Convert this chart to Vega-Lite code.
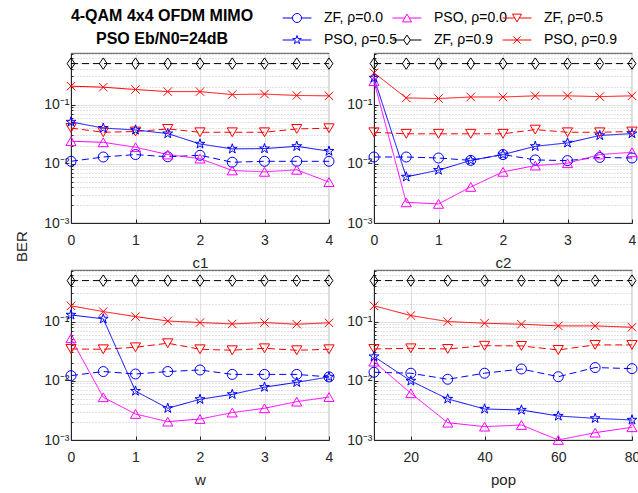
{
"$schema":"https://vega.github.io/schema/vega-lite/v6.json",
"padding":{"left":13,"top":8,"right":0,"bottom":0},
"bounds":"flush",
"columns":2,
"spacing":{"row":47,"column":45},
"config":{
 "font":"Liberation Sans",
 "view":{"stroke":"#262626","strokeWidth":0.8},
 "axis":{"labelFontSize":14,"labelColor":"#262626","titleFontSize":15,"titleFontWeight":"normal","titleColor":"#262626","domainColor":"#262626","tickColor":"#262626","gridColor":"#e0e0e0","labelOverlap":false,"labelBound":false,"labelFlush":false},
 "legend":{"padding":0}
},
"datasets":{"ber":[
{"p":"c1","x":0,"s":"ZF, ρ=0.0","b":0.011},{"p":"c1","x":0.5,"s":"ZF, ρ=0.0","b":0.013},{"p":"c1","x":1,"s":"ZF, ρ=0.0","b":0.0143},{"p":"c1","x":1.5,"s":"ZF, ρ=0.0","b":0.0131},{"p":"c1","x":2,"s":"ZF, ρ=0.0","b":0.0139},{"p":"c1","x":2.5,"s":"ZF, ρ=0.0","b":0.0106},{"p":"c1","x":3,"s":"ZF, ρ=0.0","b":0.011},{"p":"c1","x":3.5,"s":"ZF, ρ=0.0","b":0.011},{"p":"c1","x":4,"s":"ZF, ρ=0.0","b":0.011},
{"p":"c1","x":0,"s":"PSO, ρ=0.0","b":0.024},{"p":"c1","x":0.5,"s":"PSO, ρ=0.0","b":0.023},{"p":"c1","x":1,"s":"PSO, ρ=0.0","b":0.019},{"p":"c1","x":1.5,"s":"PSO, ρ=0.0","b":0.0143},{"p":"c1","x":2,"s":"PSO, ρ=0.0","b":0.0122},{"p":"c1","x":2.5,"s":"PSO, ρ=0.0","b":0.0077},{"p":"c1","x":3,"s":"PSO, ρ=0.0","b":0.0073},{"p":"c1","x":3.5,"s":"PSO, ρ=0.0","b":0.0079},{"p":"c1","x":4,"s":"PSO, ρ=0.0","b":0.0049},
{"p":"c1","x":0,"s":"ZF, ρ=0.5","b":0.040},{"p":"c1","x":0.5,"s":"ZF, ρ=0.5","b":0.034},{"p":"c1","x":1,"s":"ZF, ρ=0.5","b":0.035},{"p":"c1","x":1.5,"s":"ZF, ρ=0.5","b":0.0387},{"p":"c1","x":2,"s":"ZF, ρ=0.5","b":0.034},{"p":"c1","x":2.5,"s":"ZF, ρ=0.5","b":0.034},{"p":"c1","x":3,"s":"ZF, ρ=0.5","b":0.034},{"p":"c1","x":3.5,"s":"ZF, ρ=0.5","b":0.0387},{"p":"c1","x":4,"s":"ZF, ρ=0.5","b":0.0398},
{"p":"c1","x":0,"s":"PSO, ρ=0.5","b":0.0508},{"p":"c1","x":0.5,"s":"PSO, ρ=0.5","b":0.040},{"p":"c1","x":1,"s":"PSO, ρ=0.5","b":0.0372},{"p":"c1","x":1.5,"s":"PSO, ρ=0.5","b":0.0323},{"p":"c1","x":2,"s":"PSO, ρ=0.5","b":0.0216},{"p":"c1","x":2.5,"s":"PSO, ρ=0.5","b":0.0178},{"p":"c1","x":3,"s":"PSO, ρ=0.5","b":0.018},{"p":"c1","x":3.5,"s":"PSO, ρ=0.5","b":0.0197},{"p":"c1","x":4,"s":"PSO, ρ=0.5","b":0.0163},
{"p":"c1","x":0,"s":"ZF, ρ=0.9","b":0.49},{"p":"c1","x":0.5,"s":"ZF, ρ=0.9","b":0.49},{"p":"c1","x":1,"s":"ZF, ρ=0.9","b":0.49},{"p":"c1","x":1.5,"s":"ZF, ρ=0.9","b":0.49},{"p":"c1","x":2,"s":"ZF, ρ=0.9","b":0.49},{"p":"c1","x":2.5,"s":"ZF, ρ=0.9","b":0.49},{"p":"c1","x":3,"s":"ZF, ρ=0.9","b":0.49},{"p":"c1","x":3.5,"s":"ZF, ρ=0.9","b":0.49},{"p":"c1","x":4,"s":"ZF, ρ=0.9","b":0.49},
{"p":"c1","x":0,"s":"PSO, ρ=0.9","b":0.204},{"p":"c1","x":0.5,"s":"PSO, ρ=0.9","b":0.196},{"p":"c1","x":1,"s":"PSO, ρ=0.9","b":0.179},{"p":"c1","x":1.5,"s":"PSO, ρ=0.9","b":0.165},{"p":"c1","x":2,"s":"PSO, ρ=0.9","b":0.165},{"p":"c1","x":2.5,"s":"PSO, ρ=0.9","b":0.147},{"p":"c1","x":3,"s":"PSO, ρ=0.9","b":0.150},{"p":"c1","x":3.5,"s":"PSO, ρ=0.9","b":0.142},{"p":"c1","x":4,"s":"PSO, ρ=0.9","b":0.140},
{"p":"c2","x":0,"s":"ZF, ρ=0.0","b":0.013},{"p":"c2","x":0.5,"s":"ZF, ρ=0.0","b":0.013},{"p":"c2","x":1,"s":"ZF, ρ=0.0","b":0.0125},{"p":"c2","x":1.5,"s":"ZF, ρ=0.0","b":0.0114},{"p":"c2","x":2,"s":"ZF, ρ=0.0","b":0.0143},{"p":"c2","x":2.5,"s":"ZF, ρ=0.0","b":0.0116},{"p":"c2","x":3,"s":"ZF, ρ=0.0","b":0.0113},{"p":"c2","x":3.5,"s":"ZF, ρ=0.0","b":0.0128},{"p":"c2","x":4,"s":"ZF, ρ=0.0","b":0.0125},
{"p":"c2","x":0,"s":"PSO, ρ=0.0","b":0.247},{"p":"c2","x":0.5,"s":"PSO, ρ=0.0","b":0.00223},{"p":"c2","x":1,"s":"PSO, ρ=0.0","b":0.0021},{"p":"c2","x":1.5,"s":"PSO, ρ=0.0","b":0.00406},{"p":"c2","x":2,"s":"PSO, ρ=0.0","b":0.0073},{"p":"c2","x":2.5,"s":"PSO, ρ=0.0","b":0.0093},{"p":"c2","x":3,"s":"PSO, ρ=0.0","b":0.0102},{"p":"c2","x":3.5,"s":"PSO, ρ=0.0","b":0.0143},{"p":"c2","x":4,"s":"PSO, ρ=0.0","b":0.0156},
{"p":"c2","x":0,"s":"ZF, ρ=0.5","b":0.034},{"p":"c2","x":0.5,"s":"ZF, ρ=0.5","b":0.032},{"p":"c2","x":1,"s":"ZF, ρ=0.5","b":0.032},{"p":"c2","x":1.5,"s":"ZF, ρ=0.5","b":0.032},{"p":"c2","x":2,"s":"ZF, ρ=0.5","b":0.032},{"p":"c2","x":2.5,"s":"ZF, ρ=0.5","b":0.0377},{"p":"c2","x":3,"s":"ZF, ρ=0.5","b":0.034},{"p":"c2","x":3.5,"s":"ZF, ρ=0.5","b":0.034},{"p":"c2","x":4,"s":"ZF, ρ=0.5","b":0.035},
{"p":"c2","x":0,"s":"PSO, ρ=0.5","b":0.281},{"p":"c2","x":0.5,"s":"PSO, ρ=0.5","b":0.006},{"p":"c2","x":1,"s":"PSO, ρ=0.5","b":0.0078},{"p":"c2","x":1.5,"s":"PSO, ρ=0.5","b":0.0114},{"p":"c2","x":2,"s":"PSO, ρ=0.5","b":0.0143},{"p":"c2","x":2.5,"s":"PSO, ρ=0.5","b":0.0197},{"p":"c2","x":3,"s":"PSO, ρ=0.5","b":0.0225},{"p":"c2","x":3.5,"s":"PSO, ρ=0.5","b":0.030},{"p":"c2","x":4,"s":"PSO, ρ=0.5","b":0.0323},
{"p":"c2","x":0,"s":"ZF, ρ=0.9","b":0.49},{"p":"c2","x":0.5,"s":"ZF, ρ=0.9","b":0.49},{"p":"c2","x":1,"s":"ZF, ρ=0.9","b":0.49},{"p":"c2","x":1.5,"s":"ZF, ρ=0.9","b":0.49},{"p":"c2","x":2,"s":"ZF, ρ=0.9","b":0.49},{"p":"c2","x":2.5,"s":"ZF, ρ=0.9","b":0.49},{"p":"c2","x":3,"s":"ZF, ρ=0.9","b":0.49},{"p":"c2","x":3.5,"s":"ZF, ρ=0.9","b":0.49},{"p":"c2","x":4,"s":"ZF, ρ=0.9","b":0.49},
{"p":"c2","x":0,"s":"PSO, ρ=0.9","b":0.342},{"p":"c2","x":0.5,"s":"PSO, ρ=0.9","b":0.129},{"p":"c2","x":1,"s":"PSO, ρ=0.9","b":0.126},{"p":"c2","x":1.5,"s":"PSO, ρ=0.9","b":0.134},{"p":"c2","x":2,"s":"PSO, ρ=0.9","b":0.134},{"p":"c2","x":2.5,"s":"PSO, ρ=0.9","b":0.140},{"p":"c2","x":3,"s":"PSO, ρ=0.9","b":0.140},{"p":"c2","x":3.5,"s":"PSO, ρ=0.9","b":0.136},{"p":"c2","x":4,"s":"PSO, ρ=0.9","b":0.140},
{"p":"w","x":0,"s":"ZF, ρ=0.0","b":0.0122},{"p":"w","x":0.5,"s":"ZF, ρ=0.0","b":0.0143},{"p":"w","x":1,"s":"ZF, ρ=0.0","b":0.013},{"p":"w","x":1.5,"s":"ZF, ρ=0.0","b":0.0143},{"p":"w","x":2,"s":"ZF, ρ=0.0","b":0.0152},{"p":"w","x":2.5,"s":"ZF, ρ=0.0","b":0.0128},{"p":"w","x":3,"s":"ZF, ρ=0.0","b":0.0128},{"p":"w","x":3.5,"s":"ZF, ρ=0.0","b":0.0128},{"p":"w","x":4,"s":"ZF, ρ=0.0","b":0.0116},
{"p":"w","x":0,"s":"PSO, ρ=0.0","b":0.052},{"p":"w","x":0.5,"s":"PSO, ρ=0.0","b":0.00526},{"p":"w","x":1,"s":"PSO, ρ=0.0","b":0.00275},{"p":"w","x":1.5,"s":"PSO, ρ=0.0","b":0.00204},{"p":"w","x":2,"s":"PSO, ρ=0.0","b":0.00226},{"p":"w","x":2.5,"s":"PSO, ρ=0.0","b":0.0029},{"p":"w","x":3,"s":"PSO, ρ=0.0","b":0.00343},{"p":"w","x":3.5,"s":"PSO, ρ=0.0","b":0.00444},{"p":"w","x":4,"s":"PSO, ρ=0.0","b":0.0053},
{"p":"w","x":0,"s":"ZF, ρ=0.5","b":0.0344},{"p":"w","x":0.5,"s":"ZF, ρ=0.5","b":0.034},{"p":"w","x":1,"s":"ZF, ρ=0.5","b":0.0367},{"p":"w","x":1.5,"s":"ZF, ρ=0.5","b":0.043},{"p":"w","x":2,"s":"ZF, ρ=0.5","b":0.034},{"p":"w","x":2.5,"s":"ZF, ρ=0.5","b":0.0327},{"p":"w","x":3,"s":"ZF, ρ=0.5","b":0.0353},{"p":"w","x":3.5,"s":"ZF, ρ=0.5","b":0.0327},{"p":"w","x":4,"s":"ZF, ρ=0.5","b":0.034},
{"p":"w","x":0,"s":"PSO, ρ=0.5","b":0.129},{"p":"w","x":0.5,"s":"PSO, ρ=0.5","b":0.111},{"p":"w","x":1,"s":"PSO, ρ=0.5","b":0.0067},{"p":"w","x":1.5,"s":"PSO, ρ=0.5","b":0.00343},{"p":"w","x":2,"s":"PSO, ρ=0.5","b":0.00486},{"p":"w","x":2.5,"s":"PSO, ρ=0.5","b":0.0059},{"p":"w","x":3,"s":"PSO, ρ=0.5","b":0.0078},{"p":"w","x":3.5,"s":"PSO, ρ=0.5","b":0.0094},{"p":"w","x":4,"s":"PSO, ρ=0.5","b":0.0116},
{"p":"w","x":0,"s":"ZF, ρ=0.9","b":0.49},{"p":"w","x":0.5,"s":"ZF, ρ=0.9","b":0.49},{"p":"w","x":1,"s":"ZF, ρ=0.9","b":0.49},{"p":"w","x":1.5,"s":"ZF, ρ=0.9","b":0.49},{"p":"w","x":2,"s":"ZF, ρ=0.9","b":0.49},{"p":"w","x":2.5,"s":"ZF, ρ=0.9","b":0.49},{"p":"w","x":3,"s":"ZF, ρ=0.9","b":0.49},{"p":"w","x":3.5,"s":"ZF, ρ=0.9","b":0.49},{"p":"w","x":4,"s":"ZF, ρ=0.9","b":0.49},
{"p":"w","x":0,"s":"PSO, ρ=0.9","b":0.184},{"p":"w","x":0.5,"s":"PSO, ρ=0.9","b":0.147},{"p":"w","x":1,"s":"PSO, ρ=0.9","b":0.121},{"p":"w","x":1.5,"s":"PSO, ρ=0.9","b":0.102},{"p":"w","x":2,"s":"PSO, ρ=0.9","b":0.096},{"p":"w","x":2.5,"s":"PSO, ρ=0.9","b":0.091},{"p":"w","x":3,"s":"PSO, ρ=0.9","b":0.096},{"p":"w","x":3.5,"s":"PSO, ρ=0.9","b":0.090},{"p":"w","x":4,"s":"PSO, ρ=0.9","b":0.095},
{"p":"pop","x":10,"s":"ZF, ρ=0.0","b":0.0139},{"p":"pop","x":20,"s":"ZF, ρ=0.0","b":0.0134},{"p":"pop","x":30,"s":"ZF, ρ=0.0","b":0.0106},{"p":"pop","x":40,"s":"ZF, ρ=0.0","b":0.0134},{"p":"pop","x":50,"s":"ZF, ρ=0.0","b":0.0158},{"p":"pop","x":60,"s":"ZF, ρ=0.0","b":0.0117},{"p":"pop","x":70,"s":"ZF, ρ=0.0","b":0.0167},{"p":"pop","x":80,"s":"ZF, ρ=0.0","b":0.016},
{"p":"pop","x":10,"s":"PSO, ρ=0.0","b":0.021},{"p":"pop","x":20,"s":"PSO, ρ=0.0","b":0.00614},{"p":"pop","x":30,"s":"PSO, ρ=0.0","b":0.00196},{"p":"pop","x":40,"s":"PSO, ρ=0.0","b":0.00168},{"p":"pop","x":50,"s":"PSO, ρ=0.0","b":0.00179},{"p":"pop","x":60,"s":"PSO, ρ=0.0","b":0.001},{"p":"pop","x":70,"s":"PSO, ρ=0.0","b":0.00133},{"p":"pop","x":80,"s":"PSO, ρ=0.0","b":0.00164},
{"p":"pop","x":10,"s":"ZF, ρ=0.5","b":0.0344},{"p":"pop","x":20,"s":"ZF, ρ=0.5","b":0.0353},{"p":"pop","x":30,"s":"ZF, ρ=0.5","b":0.0344},{"p":"pop","x":40,"s":"ZF, ρ=0.5","b":0.039},{"p":"pop","x":50,"s":"ZF, ρ=0.5","b":0.0387},{"p":"pop","x":60,"s":"ZF, ρ=0.5","b":0.0331},{"p":"pop","x":70,"s":"ZF, ρ=0.5","b":0.0403},{"p":"pop","x":80,"s":"ZF, ρ=0.5","b":0.0403},
{"p":"pop","x":10,"s":"PSO, ρ=0.5","b":0.0256},{"p":"pop","x":20,"s":"PSO, ρ=0.5","b":0.00993},{"p":"pop","x":30,"s":"PSO, ρ=0.5","b":0.00493},{"p":"pop","x":40,"s":"PSO, ρ=0.5","b":0.00334},{"p":"pop","x":50,"s":"PSO, ρ=0.5","b":0.00321},{"p":"pop","x":60,"s":"PSO, ρ=0.5","b":0.00254},{"p":"pop","x":70,"s":"PSO, ρ=0.5","b":0.00232},{"p":"pop","x":80,"s":"PSO, ρ=0.5","b":0.00218},
{"p":"pop","x":10,"s":"ZF, ρ=0.9","b":0.49},{"p":"pop","x":20,"s":"ZF, ρ=0.9","b":0.49},{"p":"pop","x":30,"s":"ZF, ρ=0.9","b":0.49},{"p":"pop","x":40,"s":"ZF, ρ=0.9","b":0.49},{"p":"pop","x":50,"s":"ZF, ρ=0.9","b":0.49},{"p":"pop","x":60,"s":"ZF, ρ=0.9","b":0.49},{"p":"pop","x":70,"s":"ZF, ρ=0.9","b":0.49},{"p":"pop","x":80,"s":"ZF, ρ=0.9","b":0.49},
{"p":"pop","x":10,"s":"PSO, ρ=0.9","b":0.184},{"p":"pop","x":20,"s":"PSO, ρ=0.9","b":0.126},{"p":"pop","x":30,"s":"PSO, ρ=0.9","b":0.0998},{"p":"pop","x":40,"s":"PSO, ρ=0.9","b":0.0935},{"p":"pop","x":50,"s":"PSO, ρ=0.9","b":0.090},{"p":"pop","x":60,"s":"PSO, ρ=0.9","b":0.0843},{"p":"pop","x":70,"s":"PSO, ρ=0.9","b":0.0843},{"p":"pop","x":80,"s":"PSO, ρ=0.9","b":0.080}
]},
"concat":[
{"width":258,"height":170,
 "title":{"text":["4-QAM 4x4 OFDM MIMO","PSO Eb/N0=24dB"],"fontSize":16,"fontWeight":"bold","anchor":"middle","dx":-38,"offset":0,"lineHeight":23,"color":"#000000"},
 "data":{"name":"ber"},"transform":[{"filter":"datum.p=='c1'"}],
 "encoding":{
  "x":{"field":"x","type":"quantitative","scale":{"domain":[0,4],"nice":false,"zero":false},"axis":{"values":[0,1,2,3,4],"title":"c1","tickSize":-4,"labelPadding":14,"titlePadding":8}},
  "y":{"field":"b","type":"quantitative","scale":{"type":"log","domain":[0.001,0.74],"nice":false},"axis":{"title":"BER","titleX":-50,"titleY":193,"titleAngle":-90,"titleAlign":"center","titleBaseline":"middle","labelPadding":6,"values":[0.001,0.002,0.003,0.004,0.005,0.006,0.007,0.008,0.009,0.01,0.02,0.03,0.04,0.05,0.06,0.07,0.08,0.09,0.1,0.2,0.3,0.4,0.5,0.6,0.7],"labelExpr":"datum.value==0.1?'10⁻¹':datum.value==0.01?'10⁻²':datum.value==0.001?'10⁻³':''","gridDash":{"condition":{"test":"datum.value==0.1||datum.value==0.01||datum.value==0.001","value":[]},"value":[1,2]},"gridColor":{"condition":{"test":"datum.value==0.1||datum.value==0.01||datum.value==0.001","value":"#e0e0e0"},"value":"#c4c4c4"},"tickSize":{"condition":{"test":"datum.value==0.1||datum.value==0.01||datum.value==0.001","value":-4},"value":-2}}},
  "color":{"field":"s","type":"nominal","scale":{"domain":["ZF, ρ=0.0","PSO, ρ=0.0","ZF, ρ=0.5","PSO, ρ=0.5","ZF, ρ=0.9","PSO, ρ=0.9"],"range":["#0000ff","#ff00ff","#ff0000","#0000ff","#000000","#ff0000"]},"legend":null}
 },
 "layer":[
  {"mark":{"type":"line","strokeWidth":1},"encoding":{"strokeDash":{"field":"s","type":"nominal","scale":{"domain":["ZF, ρ=0.0","PSO, ρ=0.0","ZF, ρ=0.5","PSO, ρ=0.5","ZF, ρ=0.9","PSO, ρ=0.9"],"range":[[7,4],[1,0],[7,4],[1,0],[7,4],[1,0]]},"legend":null}}},
  {"mark":{"type":"point","filled":false,"strokeWidth":1,"opacity":1},"encoding":{"shape":{"field":"s","type":"nominal","scale":{"domain":["ZF, ρ=0.0","PSO, ρ=0.0","ZF, ρ=0.5","PSO, ρ=0.5","ZF, ρ=0.9","PSO, ρ=0.9"],"range":["circle","triangle-up","triangle-down","M0,-1L0.223,-0.307L0.951,-0.309L0.361,0.117L0.588,0.809L0,0.38L-0.588,0.809L-0.361,0.117L-0.951,-0.309L-0.223,-0.307Z","M0,-1.1L0.75,0L0,1.1L-0.75,0Z","M-0.8,-0.8L0.8,0.8M-0.8,0.8L0.8,-0.8"]},"legend":null},"size":{"field":"s","type":"nominal","scale":{"domain":["ZF, ρ=0.0","PSO, ρ=0.0","ZF, ρ=0.5","PSO, ρ=0.5","ZF, ρ=0.9","PSO, ρ=0.9"],"range":[100,110,110,121,100,100]},"legend":null}}}
 ]
},
{"width":258,"height":170,
 "data":{"name":"ber"},"transform":[{"filter":"datum.p=='c2'"}],
 "resolve":{"scale":{"shape":"independent","stroke":"independent"},"legend":{"shape":"independent","stroke":"independent"}},
 "encoding":{
  "x":{"field":"x","type":"quantitative","scale":{"domain":[0,4],"nice":false,"zero":false},"axis":{"values":[0,1,2,3,4],"title":"c2","tickSize":-4,"labelPadding":14,"titlePadding":8}},
  "y":{"field":"b","type":"quantitative","scale":{"type":"log","domain":[0.001,0.74],"nice":false},"axis":{"title":null,"labelPadding":6,"values":[0.001,0.002,0.003,0.004,0.005,0.006,0.007,0.008,0.009,0.01,0.02,0.03,0.04,0.05,0.06,0.07,0.08,0.09,0.1,0.2,0.3,0.4,0.5,0.6,0.7],"labelExpr":"datum.value==0.1?'10⁻¹':datum.value==0.01?'10⁻²':datum.value==0.001?'10⁻³':''","gridDash":{"condition":{"test":"datum.value==0.1||datum.value==0.01||datum.value==0.001","value":[]},"value":[1,2]},"gridColor":{"condition":{"test":"datum.value==0.1||datum.value==0.01||datum.value==0.001","value":"#e0e0e0"},"value":"#c4c4c4"},"tickSize":{"condition":{"test":"datum.value==0.1||datum.value==0.01||datum.value==0.001","value":-4},"value":-2}}},
  "color":{"field":"s","type":"nominal","scale":{"domain":["ZF, ρ=0.0","PSO, ρ=0.0","ZF, ρ=0.5","PSO, ρ=0.5","ZF, ρ=0.9","PSO, ρ=0.9"],"range":["#0000ff","#ff00ff","#ff0000","#0000ff","#000000","#ff0000"]},"legend":null}
 },
 "layer":[
  {"mark":{"type":"line","strokeWidth":1},"encoding":{"strokeDash":{"field":"s","type":"nominal","scale":{"domain":["ZF, ρ=0.0","PSO, ρ=0.0","ZF, ρ=0.5","PSO, ρ=0.5","ZF, ρ=0.9","PSO, ρ=0.9"],"range":[[7,4],[1,0],[7,4],[1,0],[7,4],[1,0]]},"legend":null}}},
  {"mark":{"type":"point","filled":false,"strokeWidth":1,"opacity":1},"encoding":{"shape":{"field":"s","type":"nominal","scale":{"domain":["ZF, ρ=0.0","PSO, ρ=0.0","ZF, ρ=0.5","PSO, ρ=0.5","ZF, ρ=0.9","PSO, ρ=0.9"],"range":["circle","triangle-up","triangle-down","M0,-1L0.223,-0.307L0.951,-0.309L0.361,0.117L0.588,0.809L0,0.38L-0.588,0.809L-0.361,0.117L-0.951,-0.309L-0.223,-0.307Z","M0,-1.1L0.75,0L0,1.1L-0.75,0Z","M-0.8,-0.8L0.8,0.8M-0.8,0.8L0.8,-0.8"]},"legend":null},"size":{"field":"s","type":"nominal","scale":{"domain":["ZF, ρ=0.0","PSO, ρ=0.0","ZF, ρ=0.5","PSO, ρ=0.5","ZF, ρ=0.9","PSO, ρ=0.9"],"range":[100,110,110,121,100,100]},"legend":null}}},
  {"transform":[{"filter":"datum.p=='none'"}],"mark":{"type":"point","filled":false,"strokeWidth":1,"opacity":1},"encoding":{
    "stroke":{"field":"s","type":"nominal","scale":{"domain":["ZF, ρ=0.0","PSO, ρ=0.0","ZF, ρ=0.5","PSO, ρ=0.5","ZF, ρ=0.9","PSO, ρ=0.9"],"range":["#0000ff","#ff00ff","#ff0000","#0000ff","#000000","#ff0000"]},
     "legend":{"orient":"none","direction":"horizontal","legendX":-84,"legendY":-42,"columns":3,"title":null,"labelFontSize":14,"labelColor":"#000000","symbolSize":81,"symbolStrokeWidth":1,"symbolFillColor":"transparent","symbolOpacity":1,"labelOffset":20,"columnPadding":-7,"rowPadding":8}},
    "shape":{"field":"s","type":"nominal","scale":{"domain":["ZF, ρ=0.0","PSO, ρ=0.0","ZF, ρ=0.5","PSO, ρ=0.5","ZF, ρ=0.9","PSO, ρ=0.9"],"range":["M-3.2,0H-1M1,0H3.2M1,0L0.924,0.383L0.707,0.707L0.383,0.924L0,1L-0.383,0.924L-0.707,0.707L-0.924,0.383L-1,0L-0.924,-0.383L-0.707,-0.707L-0.383,-0.924L0,-1L0.383,-0.924L0.707,-0.707L0.924,-0.383Z","M-3.2,0H-0.5M0.5,0H3.2M0,-0.866L1,0.866L-1,0.866Z","M-3.2,0H-0.5M0.5,0H3.2M0,0.866L1,-0.866L-1,-0.866Z","M-3.2,0H-0.7M0.7,0H3.2M0,-1L0.223,-0.307L0.951,-0.309L0.361,0.117L0.588,0.809L0,0.38L-0.588,0.809L-0.361,0.117L-0.951,-0.309L-0.223,-0.307Z","M-3.2,0H-0.75M0.75,0H3.2M0,-1.1L0.75,0L0,1.1L-0.75,0Z","M-3.2,0H3.2M-0.8,-0.8L0.8,0.8M-0.8,0.8L0.8,-0.8"]},
     "legend":{"orient":"none","direction":"horizontal","legendX":-84,"legendY":-42,"columns":3,"title":null,"labelFontSize":14,"labelColor":"#000000","symbolSize":81,"symbolStrokeWidth":1,"symbolFillColor":"transparent","symbolOpacity":1,"labelOffset":20,"columnPadding":-7,"rowPadding":8}}
  }}
 ]
},
{"width":258,"height":170,
 "data":{"name":"ber"},"transform":[{"filter":"datum.p=='w'"}],
 "encoding":{
  "x":{"field":"x","type":"quantitative","scale":{"domain":[0,4],"nice":false,"zero":false},"axis":{"values":[0,1,2,3,4],"title":"w","tickSize":-4,"labelPadding":14,"titlePadding":8}},
  "y":{"field":"b","type":"quantitative","scale":{"type":"log","domain":[0.001,0.74],"nice":false},"axis":{"title":null,"labelPadding":6,"values":[0.001,0.002,0.003,0.004,0.005,0.006,0.007,0.008,0.009,0.01,0.02,0.03,0.04,0.05,0.06,0.07,0.08,0.09,0.1,0.2,0.3,0.4,0.5,0.6,0.7],"labelExpr":"datum.value==0.1?'10⁻¹':datum.value==0.01?'10⁻²':datum.value==0.001?'10⁻³':''","gridDash":{"condition":{"test":"datum.value==0.1||datum.value==0.01||datum.value==0.001","value":[]},"value":[1,2]},"gridColor":{"condition":{"test":"datum.value==0.1||datum.value==0.01||datum.value==0.001","value":"#e0e0e0"},"value":"#c4c4c4"},"tickSize":{"condition":{"test":"datum.value==0.1||datum.value==0.01||datum.value==0.001","value":-4},"value":-2}}},
  "color":{"field":"s","type":"nominal","scale":{"domain":["ZF, ρ=0.0","PSO, ρ=0.0","ZF, ρ=0.5","PSO, ρ=0.5","ZF, ρ=0.9","PSO, ρ=0.9"],"range":["#0000ff","#ff00ff","#ff0000","#0000ff","#000000","#ff0000"]},"legend":null}
 },
 "layer":[
  {"mark":{"type":"line","strokeWidth":1},"encoding":{"strokeDash":{"field":"s","type":"nominal","scale":{"domain":["ZF, ρ=0.0","PSO, ρ=0.0","ZF, ρ=0.5","PSO, ρ=0.5","ZF, ρ=0.9","PSO, ρ=0.9"],"range":[[7,4],[1,0],[7,4],[1,0],[7,4],[1,0]]},"legend":null}}},
  {"mark":{"type":"point","filled":false,"strokeWidth":1,"opacity":1},"encoding":{"shape":{"field":"s","type":"nominal","scale":{"domain":["ZF, ρ=0.0","PSO, ρ=0.0","ZF, ρ=0.5","PSO, ρ=0.5","ZF, ρ=0.9","PSO, ρ=0.9"],"range":["circle","triangle-up","triangle-down","M0,-1L0.223,-0.307L0.951,-0.309L0.361,0.117L0.588,0.809L0,0.38L-0.588,0.809L-0.361,0.117L-0.951,-0.309L-0.223,-0.307Z","M0,-1.1L0.75,0L0,1.1L-0.75,0Z","M-0.8,-0.8L0.8,0.8M-0.8,0.8L0.8,-0.8"]},"legend":null},"size":{"field":"s","type":"nominal","scale":{"domain":["ZF, ρ=0.0","PSO, ρ=0.0","ZF, ρ=0.5","PSO, ρ=0.5","ZF, ρ=0.9","PSO, ρ=0.9"],"range":[100,110,110,121,100,100]},"legend":null}}}
 ]
},
{"width":258,"height":170,
 "data":{"name":"ber"},"transform":[{"filter":"datum.p=='pop'"}],
 "encoding":{
  "x":{"field":"x","type":"quantitative","scale":{"domain":[10,80],"nice":false,"zero":false},"axis":{"values":[20,40,60,80],"title":"pop","tickSize":-4,"labelPadding":14,"titlePadding":8}},
  "y":{"field":"b","type":"quantitative","scale":{"type":"log","domain":[0.001,0.74],"nice":false},"axis":{"title":null,"labelPadding":6,"values":[0.001,0.002,0.003,0.004,0.005,0.006,0.007,0.008,0.009,0.01,0.02,0.03,0.04,0.05,0.06,0.07,0.08,0.09,0.1,0.2,0.3,0.4,0.5,0.6,0.7],"labelExpr":"datum.value==0.1?'10⁻¹':datum.value==0.01?'10⁻²':datum.value==0.001?'10⁻³':''","gridDash":{"condition":{"test":"datum.value==0.1||datum.value==0.01||datum.value==0.001","value":[]},"value":[1,2]},"gridColor":{"condition":{"test":"datum.value==0.1||datum.value==0.01||datum.value==0.001","value":"#e0e0e0"},"value":"#c4c4c4"},"tickSize":{"condition":{"test":"datum.value==0.1||datum.value==0.01||datum.value==0.001","value":-4},"value":-2}}},
  "color":{"field":"s","type":"nominal","scale":{"domain":["ZF, ρ=0.0","PSO, ρ=0.0","ZF, ρ=0.5","PSO, ρ=0.5","ZF, ρ=0.9","PSO, ρ=0.9"],"range":["#0000ff","#ff00ff","#ff0000","#0000ff","#000000","#ff0000"]},"legend":null}
 },
 "layer":[
  {"mark":{"type":"line","strokeWidth":1},"encoding":{"strokeDash":{"field":"s","type":"nominal","scale":{"domain":["ZF, ρ=0.0","PSO, ρ=0.0","ZF, ρ=0.5","PSO, ρ=0.5","ZF, ρ=0.9","PSO, ρ=0.9"],"range":[[7,4],[1,0],[7,4],[1,0],[7,4],[1,0]]},"legend":null}}},
  {"mark":{"type":"point","filled":false,"strokeWidth":1,"opacity":1},"encoding":{"shape":{"field":"s","type":"nominal","scale":{"domain":["ZF, ρ=0.0","PSO, ρ=0.0","ZF, ρ=0.5","PSO, ρ=0.5","ZF, ρ=0.9","PSO, ρ=0.9"],"range":["circle","triangle-up","triangle-down","M0,-1L0.223,-0.307L0.951,-0.309L0.361,0.117L0.588,0.809L0,0.38L-0.588,0.809L-0.361,0.117L-0.951,-0.309L-0.223,-0.307Z","M0,-1.1L0.75,0L0,1.1L-0.75,0Z","M-0.8,-0.8L0.8,0.8M-0.8,0.8L0.8,-0.8"]},"legend":null},"size":{"field":"s","type":"nominal","scale":{"domain":["ZF, ρ=0.0","PSO, ρ=0.0","ZF, ρ=0.5","PSO, ρ=0.5","ZF, ρ=0.9","PSO, ρ=0.9"],"range":[100,110,110,121,100,100]},"legend":null}}}
 ]
}
]
}
